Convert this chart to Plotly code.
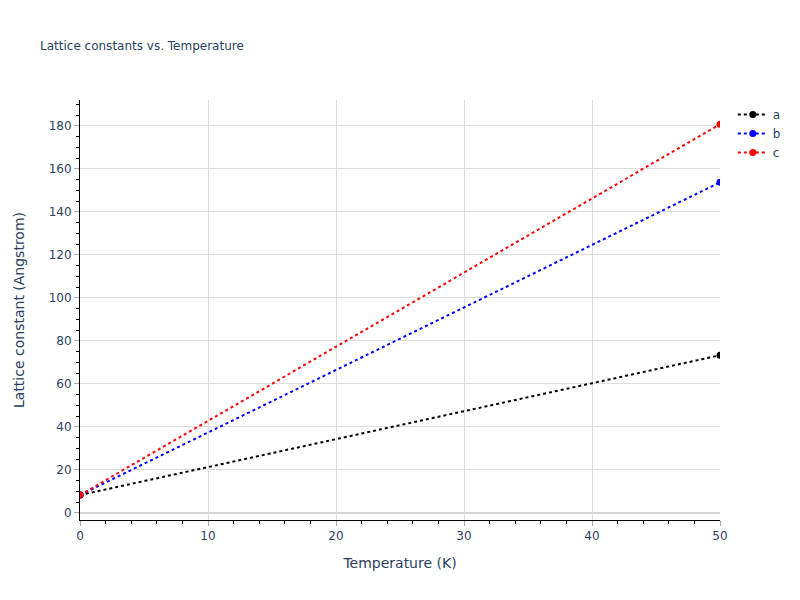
import plotly.graph_objects as go

temperature = [0, 50]
lattice_a = [8.3, 73.3]
lattice_b = [8.3, 153.7]
lattice_c = [8.3, 180.7]

series = [("a", lattice_a, "black"), ("b", lattice_b, "blue"), ("c", lattice_c, "red")]

fig = go.Figure()
for name, vals, col in series:
    fig.add_trace(go.Scatter(
        x=temperature, y=vals, name=name, mode="lines+markers",
        line=dict(color=col, width=2, dash="dot"),
        marker=dict(color=col, size=7),
        cliponaxis=True,
    ))

axis_style = dict(
    showline=True, linecolor="black", linewidth=1,
    ticks="outside", tickcolor="#a8a8a8", ticklen=5,
    showgrid=True, gridcolor="#dddddd", gridwidth=1,
    zeroline=True, zerolinecolor="#d5d5d5", zerolinewidth=2,
    title_font=dict(size=14),
)

# page body has an 8px margin, so the figure is 792x592 and shifted inward
fig.update_layout(
    template="plotly_white",
    width=792, height=592,
    font=dict(family="DejaVu Sans"),
    title=dict(text="Lattice constants vs. Temperature", font=dict(size=12),
               x=32 / 792, xanchor="left", y=1 - 38 / 592, yanchor="middle"),
    margin=dict(l=72, r=80, t=92, b=80, autoexpand=False),
    legend=dict(font=dict(size=12), x=1.02),
)
fig.update_xaxes(title_text="Temperature (K)", range=[0, 50],
                 minor=dict(ticks="outside", ticklen=3, tickcolor="black", dtick=2),
                 **axis_style)
fig.update_yaxes(title_text="Lattice constant (Angstrom)", range=[-3.3, 192],
                 title_standoff=20,
                 minor=dict(ticks="outside", ticklen=3, tickcolor="black", dtick=5),
                 **axis_style)

fig.write_html("out.html")
